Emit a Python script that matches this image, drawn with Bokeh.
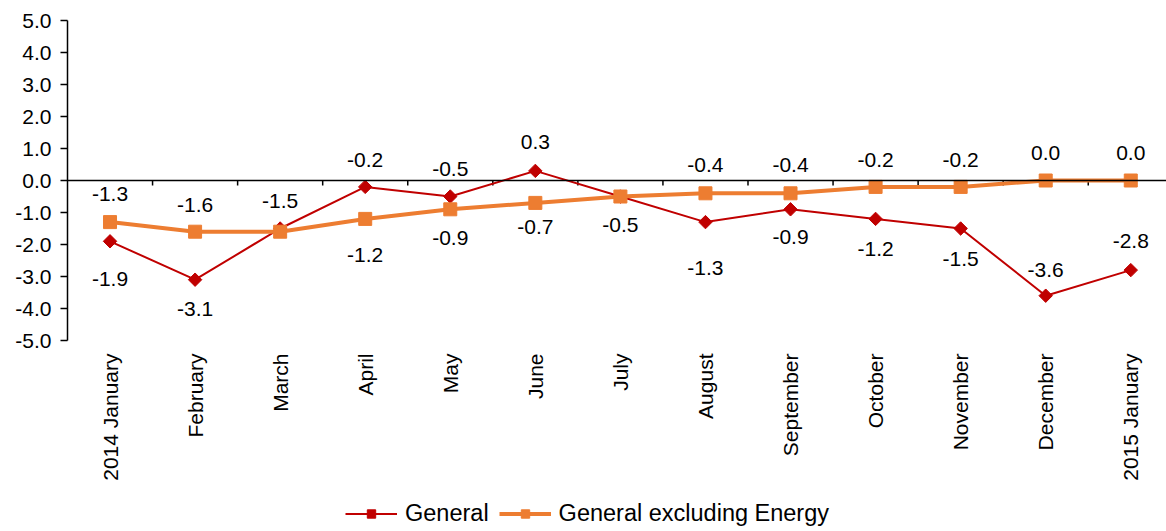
import math
from bokeh.plotting import figure
from bokeh.models import (Range1d, FixedTicker, Span, Legend, LegendItem,
                          ColumnDataSource, LabelSet)
from bokeh.core.properties import value
from bokeh.embed import file_html
from bokeh.resources import INLINE

# ---------------- data ----------------
months = ["2014 January", "February", "March", "April", "May", "June", "July",
          "August", "September", "October", "November", "December", "2015 January"]
general = [-1.9, -3.1, -1.5, -0.2, -0.5, 0.3, -0.5, -1.3, -0.9, -1.2, -1.5, -3.6, -2.8]
general_excl_energy = [-1.3, -1.6, -1.6, -1.2, -0.9, -0.7, -0.5, -0.4, -0.4, -0.2, -0.2, 0.0, 0.0]
y_ticks = [-5.0, -4.0, -3.0, -2.0, -1.0, 0.0, 1.0, 2.0, 3.0, 4.0, 5.0]

# ---------------- label layout (pixel offsets, positive = downward; None = hidden) ----------------
general_label_dy = [38, 29, -28, -27, -28, -29, 28, 46, 28, 30, 30, -26, -29]
excl_label_dy = [-28, -27, None, 36, 29, 24, None, -28, -28, -27, -27, -28, -28]

FONT = "Liberation Sans"
FS = "21px"
LEGEND_FS = "23.5px"
RED = "#C00000"
ORANGE = "#ED7D31"

x = list(range(len(months)))
y_min, y_max = y_ticks[0], y_ticks[-1]
# the frame extends below the value axis to host the month labels and the legend
px_per_unit = 32.0
below_px = 191
p = figure(frame_width=1099, frame_height=511, output_backend="svg", toolbar_location=None,
           x_range=Range1d(-0.5, 12.42),
           y_range=Range1d(y_min - below_px / px_per_unit, y_max),
           min_border_left=67, min_border_right=0, min_border_top=20,
           min_border_bottom=0)
p.outline_line_color = None
p.xgrid.visible = False
p.ygrid.visible = False
p.background_fill_color = "white"
p.xaxis.visible = False

# y axis
p.yaxis.ticker = FixedTicker(ticks=y_ticks)
p.yaxis.bounds = (y_min, y_max)
p.yaxis.major_label_overrides = {t: f"{t:.1f}" for t in y_ticks}
p.yaxis.minor_tick_line_color = None
p.yaxis.major_tick_in = 0
p.yaxis.major_tick_out = 7
p.yaxis.axis_line_width = 1.5
p.yaxis.major_tick_line_width = 1.5
p.yaxis.axis_line_color = "black"
p.yaxis.major_tick_line_color = "black"
p.yaxis.major_label_text_font = FONT
p.yaxis.major_label_text_font_size = FS
p.yaxis.major_label_text_color = "black"
p.yaxis.major_label_standoff = 9

# month labels (rotated, reading upward, ending just below the value axis)
msrc = ColumnDataSource(dict(x=x, y=[y_min] * len(x), t=months))
p.add_layout(LabelSet(x="x", y="y", text="t", source=msrc, angle=math.pi / 2,
                      y_offset=-13, text_align="right", text_baseline="middle",
                      text_font=value(FONT), text_font_size=value(FS),
                      text_color="black"))

# zero line with downward boundary ticks
p.add_layout(Span(location=0, dimension="width", line_color="black", line_width=1.5))
bx = [i + 0.5 for i in x[:-1]]
p.segment(x0=bx, y0=[0] * len(bx), x1=bx, y1=[-0.16] * len(bx),
          line_color="black", line_width=1.5)

# series
r_gen_line = p.line(x, general, line_color=RED, line_width=2)
r_gen_mark = p.scatter(x, general, marker="square", angle=math.pi / 4, size=9.5,
                       fill_color=RED, line_color=RED)
r_exc_line = p.line(x, general_excl_energy, line_color=ORANGE, line_width=4)
r_exc_mark = p.scatter(x, general_excl_energy, marker="square", size=13,
                       fill_color=ORANGE, line_color=ORANGE)

# data labels
def add_labels(vals, dys):
    xs, ys, txt, offs = [], [], [], []
    for i, (v, d) in enumerate(zip(vals, dys)):
        if d is None:
            continue
        xs.append(i)
        ys.append(v)
        txt.append(f"{v:.1f}")
        offs.append(-d)
    src = ColumnDataSource(dict(x=xs, y=ys, t=txt, off=offs))
    p.add_layout(LabelSet(x="x", y="y", text="t", y_offset="off", source=src,
                          text_align="center", text_baseline="middle",
                          text_font=value(FONT), text_font_size=value(FS),
                          text_color="black"))

add_labels(general, general_label_dy)
add_labels(general_excl_energy, excl_label_dy)

# legend at the bottom of the frame
legend = Legend(items=[LegendItem(label="General", renderers=[r_gen_line, r_gen_mark]),
                       LegendItem(label="General excluding Energy", renderers=[r_exc_line, r_exc_mark])],
                orientation="horizontal", location=(278, 4),
                label_text_font=FONT, label_text_font_size=LEGEND_FS, label_text_color="black",
                glyph_width=52, glyph_height=21, label_standoff=8, spacing=10,
                padding=0, margin=0, border_line_color=None, background_fill_alpha=0)
p.add_layout(legend, "center")

open("out.html", "w").write(file_html(p, INLINE))
